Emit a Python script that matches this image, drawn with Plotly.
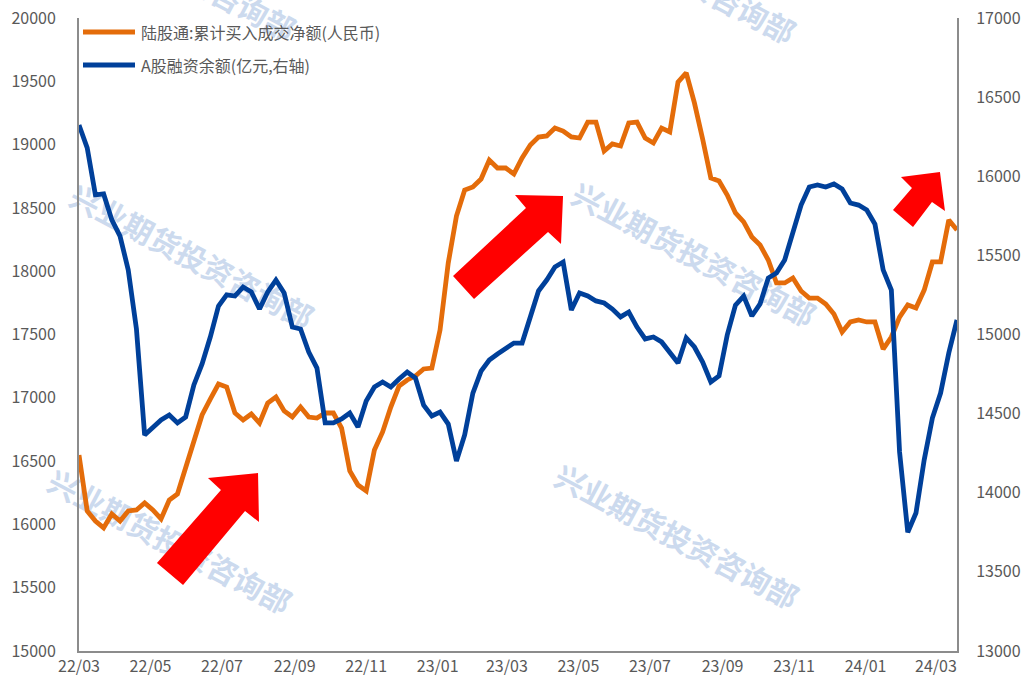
import pandas as pd
import plotly.graph_objects as go

# weekly observations, 2022-03-01 .. 2024-03-19
dates = pd.date_range("2022-03-01", periods=108, freq="7D")

# 陆股通累计买入成交净额 (left axis)
northbound = [16548, 16106, 16027, 15972, 16082, 16027, 16106, 16114, 16169, 16114,
              16043, 16193, 16240, 16453, 16667, 16864, 16990, 17109, 17085, 16880,
              16825, 16872, 16801, 16959, 17006, 16896, 16848, 16927, 16848, 16840,
              16880, 16880, 16761, 16422, 16311, 16264, 16588, 16730, 16927, 17093,
              17141, 17172, 17228, 17235, 17536, 18065, 18436, 18641, 18665, 18728,
              18878, 18815, 18815, 18768, 18894, 18997, 19060, 19068, 19131, 19107,
              19060, 19052, 19178, 19178, 18949, 19005, 18989, 19171, 19178, 19052,
              19013, 19131, 19100, 19494, 19566, 19329, 19044, 18736, 18712, 18602,
              18460, 18389, 18270, 18207, 18088, 17907, 17907, 17946, 17844, 17788,
              17788, 17741, 17662, 17520, 17599, 17615, 17599, 17599, 17385, 17480,
              17638, 17733, 17709, 17851, 18073, 18073, 18404, 18325]

# A股融资余额 (right axis)
margin_bal = [16324, 16179, 15882, 15888, 15724, 15622, 15408, 15035, 14365, 14416,
              14460, 14491, 14441, 14479, 14681, 14814, 14984, 15180, 15250, 15243,
              15300, 15269, 15161, 15269, 15344, 15262, 15047, 15035, 14889, 14788,
              14441, 14441, 14466, 14504, 14416, 14580, 14668, 14700, 14668, 14719,
              14763, 14725, 14554, 14485, 14510, 14434, 14200, 14365, 14630, 14769,
              14839, 14877, 14915, 14946, 14946, 15123, 15275, 15344, 15427, 15458,
              15155, 15262, 15243, 15212, 15199, 15161, 15111, 15142, 15047, 14972,
              14984, 14953, 14883, 14820, 14978, 14921, 14826, 14700, 14738, 14997,
              15186, 15243, 15117, 15193, 15357, 15389, 15471, 15635, 15818, 15932,
              15945, 15932, 15951, 15919, 15831, 15818, 15787, 15698, 15408, 15281,
              14258, 13750, 13872, 14207, 14472, 14630, 14883, 15092]

name_nb = "陆股通:累计买入成交净额(人民币)"
name_mb = "A股融资余额(亿元,右轴)"
watermark = "兴业期货投资咨询部"

ORANGE = "#E46C0A"
BLUE = "#00409A"
AXIS = "#8c8c8c"
TXT = "#595959"
FONT = "Noto Sans CJK SC"

W, H = 1023, 683
L, R, T, B = 79, 957, 18, 651


def to_paper(px, py):
    return (px - L) / (R - L), (B - py) / (B - T)


def arrow_path(pts):
    p = [to_paper(x, y) for x, y in pts]
    return "M " + " L ".join(f"{x:.4f},{y:.4f}" for x, y in p) + " Z"


fig = go.Figure()
fig.add_trace(go.Scatter(x=dates, y=northbound, name=name_nb, mode="lines",
                         line=dict(color=ORANGE, width=4.8)))
fig.add_trace(go.Scatter(x=dates, y=margin_bal, name=name_mb, mode="lines",
                         line=dict(color=BLUE, width=4.8), yaxis="y2"))

shapes = []
annotations = []
# watermarks, drawn under the lines
for cx, cy in [(172, -28), (672, -25), (190, 260), (692, 258), (168, 545), (675, 540)]:
    x, y = to_paper(cx, cy)
    shapes.append(dict(type="rect", xref="paper", yref="paper",
                       x0=x - 0.005, x1=x + 0.005, y0=y - 0.005, y1=y + 0.005,
                       line=dict(width=0), fillcolor="rgba(0,0,0,0)", layer="below",
                       label=dict(text="<b>" + watermark + "</b>", textangle=28,
                                  textposition="middle center",
                                  font=dict(family=FONT, size=30, color="#CCDAEE"))))

# red arrows
arrows = [
    [(157, 563), (221, 490), (208, 478), (258, 473), (259, 522), (245, 511), (183, 585)],
    [(453, 276), (526, 208), (515, 195), (563, 196), (561, 244), (548, 232), (474, 299)],
    [(893, 210), (912, 188), (901, 177), (940, 172), (945, 211), (932, 202), (913, 227)],
]
for pts in arrows:
    shapes.append(dict(type="path", xref="paper", yref="paper", path=arrow_path(pts),
                       fillcolor="#FF0000", line=dict(width=0), layer="above"))

# legend, Excel style (long line sample)
for (name, color), ly in zip([(name_nb, ORANGE), (name_mb, BLUE)], [32, 65]):
    x0, y0 = to_paper(83, ly)
    x1, _ = to_paper(135, ly)
    shapes.append(dict(type="line", xref="paper", yref="paper", x0=x0, x1=x1, y0=y0, y1=y0,
                       line=dict(color=color, width=5), layer="above"))
    tx, _ = to_paper(139, ly)
    annotations.append(dict(xref="paper", yref="paper", x=tx, y=y0, text=name,
                            showarrow=False, xanchor="left", yanchor="middle",
                            font=dict(size=16, color=TXT)))

fig.update_layout(
    width=W, height=H,
    margin=dict(l=L, r=W - R, t=T, b=H - B, autoexpand=False),
    plot_bgcolor="white", paper_bgcolor="white",
    font=dict(family=FONT, color=TXT, size=15),
    showlegend=False,
    shapes=shapes,
    annotations=annotations,
    xaxis=dict(type="date", range=["2022-03-01", "2024-03-19"],
               tick0="2022-03-01", dtick="M2", tickformat="%y/%m",
               showline=True, linecolor=AXIS, linewidth=2, showgrid=False,
               zeroline=False, ticks="", tickfont=dict(size=16), ticklabelstandoff=0,
               automargin=False),
    yaxis=dict(range=[15000, 20000], dtick=500, tickformat="d",
               showline=True, linecolor=AXIS, linewidth=2, showgrid=False,
               zeroline=False, ticks="", tickfont=dict(size=16), ticklabelstandoff=18,
               automargin=False),
    yaxis2=dict(range=[13000, 17000], dtick=500, tickformat="d", overlaying="y",
                side="right", showline=True, linecolor=AXIS, linewidth=2,
                showgrid=False, zeroline=False, ticks="", tickfont=dict(size=16),
                ticklabelstandoff=14, automargin=False),
)

fig.write_html("out.html", config={"displayModeBar": False},
               post_script="document.body.style.margin='0px';")
